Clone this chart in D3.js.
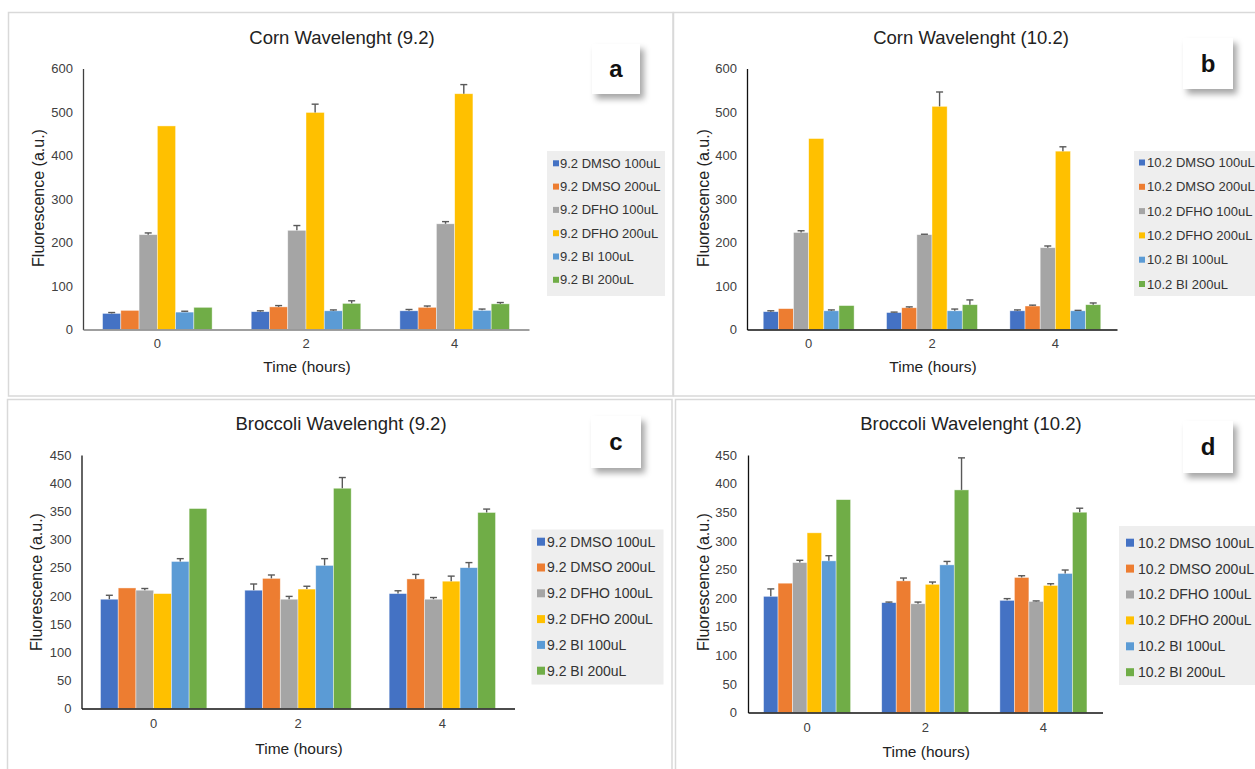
<!DOCTYPE html>
<html>
<head>
<meta charset="utf-8">
<script src="https://cdn.jsdelivr.net/npm/d3@7"></script>
<style>
  body { margin: 0; background: #fff; }
  text { font-family: "Liberation Sans", Arial, sans-serif; }
</style>
</head>
<body>
<script>
// categories
var hours = ["0", "2", "4"];
var names92 = ["9.2 DMSO 100uL", "9.2 DMSO 200uL", "9.2 DFHO 100uL", "9.2 DFHO 200uL", "9.2 BI 100uL", "9.2 BI 200uL"];
var names102 = ["10.2 DMSO 100uL", "10.2 DMSO 200uL", "10.2 DFHO 100uL", "10.2 DFHO 200uL", "10.2 BI 100uL", "10.2 BI 200uL"];
var colors = ["#4472C4", "#ED7D31", "#A5A5A5", "#FFC000", "#5B9BD5", "#70AD47"];

// tick labels
var ticksCorn = [0, 100, 200, 300, 400, 500, 600];
var ticksBroc = [0, 50, 100, 150, 200, 250, 300, 350, 400, 450];

// values: one row per series, one column per hour (0, 2, 4)
var corn92 = [[37, 41, 43], [44, 52, 51], [218, 228, 243], [468, 499, 542], [40, 43, 44], [51, 60, 59]];
var corn92Err = [[2, 2, 3], [0, 3, 3], [4, 11, 5], [0, 19, 21], [2, 2, 3], [0, 6, 3]];
var corn102 = [[41, 39, 43], [48, 50, 54], [223, 218, 188], [439, 513, 410], [43, 43, 43], [55, 57, 57]];
var corn102Err = [[2, 1, 2], [0, 2, 2], [4, 1, 4], [0, 33, 10], [2, 4, 1], [0, 11, 4]];
var broc92 = [[194, 210, 204], [214, 231, 230], [210, 194, 194], [204, 212, 226], [261, 254, 250], [355, 391, 348]];
var broc92Err = [[7, 11, 5], [0, 6, 8], [3, 5, 3], [0, 5, 9], [5, 12, 9], [0, 19, 6]];
var broc102 = [[203, 192, 196], [226, 230, 236], [262, 190, 194], [314, 224, 222], [265, 258, 243], [372, 389, 350]];
var broc102Err = [[13, 1, 3], [0, 5, 3], [4, 3, 1], [0, 4, 3], [9, 6, 6], [0, 56, 7]];

var svg = d3.select("body").append("svg")
    .attr("width", 1255).attr("height", 769);

svg.append("rect").attr("width", 1255).attr("height", 769).attr("fill", "#fff");

var defs = svg.append("defs");
var f = defs.append("filter").attr("id", "shadow").attr("x", "-20%").attr("y", "-20%").attr("width", "160%").attr("height", "160%");
f.append("feDropShadow").attr("dx", 4).attr("dy", 5).attr("stdDeviation", 3)
    .attr("flood-color", "#000").attr("flood-opacity", 0.35);

// panel frames
var frames = [[8.5, 12.5, 664.5, 383.5], [673.5, 12.5, 600, 383.5], [7.5, 399.5, 664.5, 400], [675.5, 399.5, 600, 400]];
svg.selectAll("rect.frame").data(frames).join("rect")
    .attr("class", "frame")
    .attr("x", function(d) { return d[0]; }).attr("y", function(d) { return d[1]; })
    .attr("width", function(d) { return d[2]; }).attr("height", function(d) { return d[3]; })
    .attr("fill", "none").attr("stroke", "#d9d9d9").attr("stroke-width", 1.5);

var panels = [
  { title: "Corn Wavelenght (9.2)", tag: "a", names: names92, vals: corn92, err: corn92Err, ticks: ticksCorn,
    x0: 83, x1: 529, yTop: 68.5, yBot: 329.5, yAxisColor: "#404040", xAxisColor: "#7f7f7f",
    titleX: 342, titleY: 44, yLabX: 44, yLabY: 198, xLabY: 372, tickPad: 10, xTickPad: 9,
    box: [592, 44, 48, 50], legend: [547, 151, 118, 145], legY: 163.3, legStep: 23.3, legFont: 13, mark: 6, markX: 553, textX: 560 },
  { title: "Corn Wavelenght (10.2)", tag: "b", names: names102, vals: corn102, err: corn102Err, ticks: ticksCorn,
    x0: 747, x1: 1117, yTop: 68.5, yBot: 329.5, yAxisColor: "#111", xAxisColor: "#111",
    titleX: 971, titleY: 44, yLabX: 709, yLabY: 198, xLabY: 372, tickPad: 10, xTickPad: 9,
    box: [1183, 38, 50, 51], legend: [1134, 151, 130, 145], legY: 162.5, legStep: 24.3, legFont: 13, mark: 6, markX: 1139, textX: 1147 },
  { title: "Broccoli Wavelenght (9.2)", tag: "c", names: names92, vals: broc92, err: broc92Err, ticks: ticksBroc,
    x0: 81.5, x1: 514.5, yTop: 455, yBot: 708.5, yAxisColor: "#111", xAxisColor: "#111",
    titleX: 341, titleY: 430, yLabX: 42, yLabY: 582, xLabY: 754, tickPad: 10, xTickPad: 10,
    box: [591, 416, 50, 52], legend: [531.5, 529.5, 132, 155], legY: 541.7, legStep: 25.8, legFont: 14, mark: 8, markX: 537, textX: 547 },
  { title: "Broccoli Wavelenght (10.2)", tag: "d", names: names102, vals: broc102, err: broc102Err, ticks: ticksBroc,
    x0: 748, x1: 1102.5, yTop: 455, yBot: 712.5, yAxisColor: "#111", xAxisColor: "#111",
    titleX: 971, titleY: 430, yLabX: 709, yLabY: 582, xLabY: 757, tickPad: 11, xTickPad: 10,
    box: [1183, 421, 50, 52], legend: [1119, 526, 140, 159], legY: 542.7, legStep: 25.9, legFont: 14, mark: 8, markX: 1126, textX: 1138 }
];

panels.forEach(function(p) {
  var g = svg.append("g");
  var y = d3.scaleLinear()
      .domain([0, p.ticks[p.ticks.length - 1]])
      .range([p.yBot, p.yTop]);
  var x0 = d3.scaleBand().domain(hours).range([p.x0, p.x1])
      .paddingInner(0.263).paddingOuter(0.1315);
  var x1 = d3.scaleBand().domain(d3.range(p.names.length)).range([0, x0.bandwidth()]);

  // flatten to one record per bar
  var rows = [];
  p.vals.forEach(function(s, si) {
    s.forEach(function(v, hi) { rows.push({ si: si, hi: hi, v: v, e: p.err[si][hi] }); });
  });

  g.selectAll("rect.bar").data(rows).join("rect")
      .attr("class", "bar")
      .attr("x", function(d) { return x0(hours[d.hi]) + x1(d.si); })
      .attr("y", function(d) { return y(d.v); })
      .attr("width", x1.bandwidth())
      .attr("height", function(d) { return y(0) - y(d.v); })
      .attr("fill", function(d) { return colors[d.si]; })
      .attr("stroke", "#fff").attr("stroke-opacity", 0.6).attr("stroke-width", 0.7);

  // error bars, plus direction only
  var eb = g.selectAll("g.err").data(rows.filter(function(d) { return d.e > 0; })).join("g")
      .attr("class", "err")
      .attr("stroke", "#595959").attr("stroke-width", 1.4);
  eb.append("line")
      .attr("x1", function(d) { return x0(hours[d.hi]) + x1(d.si) + x1.bandwidth() / 2; })
      .attr("x2", function(d) { return x0(hours[d.hi]) + x1(d.si) + x1.bandwidth() / 2; })
      .attr("y1", function(d) { return y(d.v); })
      .attr("y2", function(d) { return y(d.v + d.e); });
  eb.append("line")
      .attr("x1", function(d) { return x0(hours[d.hi]) + x1(d.si) + x1.bandwidth() / 2 - 3.5; })
      .attr("x2", function(d) { return x0(hours[d.hi]) + x1(d.si) + x1.bandwidth() / 2 + 3.5; })
      .attr("y1", function(d) { return y(d.v + d.e); })
      .attr("y2", function(d) { return y(d.v + d.e); });

  // axes
  var yAx = g.append("g").attr("transform", "translate(" + p.x0 + ",0)")
      .call(d3.axisLeft(y).tickValues(p.ticks).tickSize(0).tickSizeOuter(0).tickPadding(p.tickPad));
  yAx.select(".domain").attr("stroke", p.yAxisColor).attr("stroke-width", 1.3);
  yAx.selectAll("text").attr("font-size", 13).attr("fill", "#404040")
      .style("font-family", "'Liberation Sans', Arial, sans-serif");

  var xAx = g.append("g").attr("transform", "translate(0," + p.yBot + ")")
      .call(d3.axisBottom(x0).tickSize(0).tickSizeOuter(0).tickPadding(p.xTickPad));
  xAx.select(".domain").attr("stroke", p.xAxisColor).attr("stroke-width", 1.5);
  xAx.selectAll("text").attr("font-size", 13).attr("fill", "#404040")
      .style("font-family", "'Liberation Sans', Arial, sans-serif");

  // titles
  g.append("text").attr("x", p.titleX).attr("y", p.titleY).attr("text-anchor", "middle")
      .attr("font-size", 18.5).attr("fill", "#222").text(p.title);
  g.append("text").attr("x", (p.x0 + p.x1) / 2 + 1).attr("y", p.xLabY).attr("text-anchor", "middle")
      .attr("font-size", 15.5).attr("fill", "#222").text("Time (hours)");
  g.append("text").attr("transform", "translate(" + p.yLabX + "," + p.yLabY + ") rotate(-90)")
      .attr("text-anchor", "middle").attr("font-size", 16).attr("fill", "#222").text("Fluorescence (a.u.)");

  // legend
  g.append("rect").attr("x", p.legend[0]).attr("y", p.legend[1])
      .attr("width", p.legend[2]).attr("height", p.legend[3]).attr("fill", "#eeeeee");
  var li = g.selectAll("g.leg").data(p.names).join("g").attr("class", "leg")
      .attr("transform", function(d, i) { return "translate(0," + (p.legY + i * p.legStep) + ")"; });
  li.append("rect").attr("x", p.markX).attr("y", -p.mark / 2).attr("width", p.mark).attr("height", p.mark)
      .attr("fill", function(d, i) { return colors[i]; });
  li.append("text").attr("x", p.textX).attr("dy", "0.35em").attr("font-size", p.legFont)
      .attr("fill", "#333").text(function(d) { return d; });

  // panel tag box
  g.append("rect").attr("x", p.box[0]).attr("y", p.box[1]).attr("width", p.box[2]).attr("height", p.box[3])
      .attr("fill", "#fff").attr("filter", "url(#shadow)");
  g.append("text").attr("x", p.box[0] + p.box[2] / 2).attr("y", p.box[1] + p.box[3] / 2)
      .attr("dy", "0.35em").attr("text-anchor", "middle").attr("font-size", 24).attr("font-weight", "bold")
      .attr("fill", "#111").text(p.tag);
});
</script>
</body>
</html>
